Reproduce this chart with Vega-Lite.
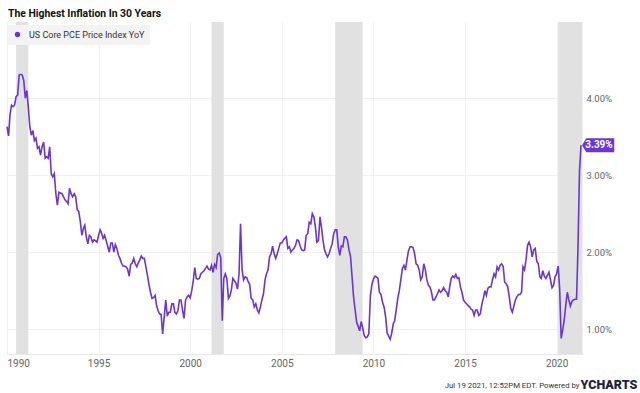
{
  "$schema": "https://vega.github.io/schema/vega-lite/v6.json",
  "width": 576,
  "height": 332,
  "autosize": {"type": "none"},
  "padding": {"left": 7, "top": 22, "right": 57, "bottom": 39},
  "background": "white",
  "title": {"text": "The Highest Inflation In 30 Years", "anchor": "start", "frame": "group", "font": "Roboto", "fontSize": 10.4, "fontWeight": "bold", "color": "#111111", "baseline": "alphabetic", "offset": 5, "dx": 1, "dy": 10},
  "config": {"view": {"stroke": null}, "font": "Roboto"},
  "data": {
    "format": {"parse": {"d": "date:'%Y-%m'", "d2": "date:'%Y-%m'"}},
    "values": [
      {"d": "1990-07", "d2": "1991-03"},
      {"d": "2001-03", "d2": "2001-11"},
      {"d": "2007-12", "d2": "2009-06"},
      {"d": "2020-02", "d2": "2021-06"},
      {"d":"1990-01","v":3.63},{"d":"1990-02","v":3.51},{"d":"1990-03","v":3.78},{"d":"1990-04","v":3.91},{"d":"1990-05","v":3.89},{"d":"1990-06","v":3.91},{"d":"1990-07","v":4.02},{"d":"1990-08","v":4.04},{"d":"1990-09","v":4.30},{"d":"1990-10","v":4.31},{"d":"1990-11","v":4.30},{"d":"1990-12","v":4.23},
      {"d":"1991-01","v":4.00},{"d":"1991-02","v":4.10},{"d":"1991-03","v":3.89},{"d":"1991-04","v":3.63},{"d":"1991-05","v":3.52},{"d":"1991-06","v":3.58},{"d":"1991-07","v":3.45},{"d":"1991-08","v":3.48},{"d":"1991-09","v":3.35},{"d":"1991-10","v":3.37},{"d":"1991-11","v":3.26},{"d":"1991-12","v":3.37},
      {"d":"1992-01","v":3.43},{"d":"1992-02","v":3.22},{"d":"1992-03","v":3.24},{"d":"1992-04","v":3.22},{"d":"1992-05","v":3.37},{"d":"1992-06","v":3.02},{"d":"1992-07","v":2.98},{"d":"1992-08","v":3.02},{"d":"1992-09","v":2.76},{"d":"1992-10","v":2.61},{"d":"1992-11","v":2.78},{"d":"1992-12","v":2.77},
      {"d":"1993-01","v":2.76},{"d":"1993-02","v":2.72},{"d":"1993-03","v":2.68},{"d":"1993-04","v":2.66},{"d":"1993-05","v":2.63},{"d":"1993-06","v":2.83},{"d":"1993-07","v":2.76},{"d":"1993-08","v":2.72},{"d":"1993-09","v":2.76},{"d":"1993-10","v":2.72},{"d":"1993-11","v":2.55},{"d":"1993-12","v":2.53},
      {"d":"1994-01","v":2.40},{"d":"1994-02","v":2.22},{"d":"1994-03","v":2.30},{"d":"1994-04","v":2.35},{"d":"1994-05","v":2.20},{"d":"1994-06","v":2.11},{"d":"1994-07","v":2.22},{"d":"1994-08","v":2.20},{"d":"1994-09","v":2.13},{"d":"1994-10","v":2.16},{"d":"1994-11","v":2.15},{"d":"1994-12","v":2.13},
      {"d":"1995-01","v":2.22},{"d":"1995-02","v":2.29},{"d":"1995-03","v":2.25},{"d":"1995-04","v":2.18},{"d":"1995-05","v":2.22},{"d":"1995-06","v":2.15},{"d":"1995-07","v":2.08},{"d":"1995-08","v":2.00},{"d":"1995-09","v":2.12},{"d":"1995-10","v":2.12},{"d":"1995-11","v":2.00},{"d":"1995-12","v":2.10},
      {"d":"1996-01","v":2.05},{"d":"1996-02","v":1.96},{"d":"1996-03","v":1.92},{"d":"1996-04","v":1.86},{"d":"1996-05","v":1.82},{"d":"1996-06","v":1.82},{"d":"1996-07","v":1.81},{"d":"1996-08","v":1.78},{"d":"1996-09","v":1.69},{"d":"1996-10","v":1.84},{"d":"1996-11","v":1.86},{"d":"1996-12","v":1.92},
      {"d":"1997-01","v":1.85},{"d":"1997-02","v":1.81},{"d":"1997-03","v":1.86},{"d":"1997-04","v":1.90},{"d":"1997-05","v":1.95},{"d":"1997-06","v":1.92},{"d":"1997-07","v":1.92},{"d":"1997-08","v":1.81},{"d":"1997-09","v":1.70},{"d":"1997-10","v":1.58},{"d":"1997-11","v":1.48},{"d":"1997-12","v":1.40},
      {"d":"1998-01","v":1.41},{"d":"1998-02","v":1.44},{"d":"1998-03","v":1.31},{"d":"1998-04","v":1.24},{"d":"1998-05","v":1.20},{"d":"1998-06","v":1.19},{"d":"1998-07","v":0.94},{"d":"1998-08","v":1.16},{"d":"1998-09","v":1.38},{"d":"1998-10","v":1.17},{"d":"1998-11","v":1.22},{"d":"1998-12","v":1.22},
      {"d":"1999-01","v":1.33},{"d":"1999-02","v":1.33},{"d":"1999-03","v":1.22},{"d":"1999-04","v":1.20},{"d":"1999-05","v":1.24},{"d":"1999-06","v":1.38},{"d":"1999-07","v":1.38},{"d":"1999-08","v":1.25},{"d":"1999-09","v":1.14},{"d":"1999-10","v":1.38},{"d":"1999-11","v":1.42},{"d":"1999-12","v":1.44},
      {"d":"2000-01","v":1.41},{"d":"2000-02","v":1.50},{"d":"2000-03","v":1.62},{"d":"2000-04","v":1.80},{"d":"2000-05","v":1.66},{"d":"2000-06","v":1.65},{"d":"2000-07","v":1.66},{"d":"2000-08","v":1.72},{"d":"2000-09","v":1.74},{"d":"2000-10","v":1.76},{"d":"2000-11","v":1.79},{"d":"2000-12","v":1.82},
      {"d":"2001-01","v":1.78},{"d":"2001-02","v":1.77},{"d":"2001-03","v":1.83},{"d":"2001-04","v":1.74},{"d":"2001-05","v":1.84},{"d":"2001-06","v":1.80},{"d":"2001-07","v":1.97},{"d":"2001-08","v":1.99},{"d":"2001-09","v":1.93},{"d":"2001-10","v":1.11},{"d":"2001-11","v":1.66},{"d":"2001-12","v":1.72},
      {"d":"2002-01","v":1.66},{"d":"2002-02","v":1.40},{"d":"2002-03","v":1.43},{"d":"2002-04","v":1.51},{"d":"2002-05","v":1.66},{"d":"2002-06","v":1.63},{"d":"2002-07","v":1.60},{"d":"2002-08","v":1.52},{"d":"2002-09","v":1.72},{"d":"2002-10","v":2.37},{"d":"2002-11","v":1.77},{"d":"2002-12","v":1.64},
      {"d":"2003-01","v":1.68},{"d":"2003-02","v":1.67},{"d":"2003-03","v":1.62},{"d":"2003-04","v":1.58},{"d":"2003-05","v":1.40},{"d":"2003-06","v":1.38},{"d":"2003-07","v":1.29},{"d":"2003-08","v":1.33},{"d":"2003-09","v":1.25},{"d":"2003-10","v":1.21},{"d":"2003-11","v":1.29},{"d":"2003-12","v":1.38},
      {"d":"2004-01","v":1.46},{"d":"2004-02","v":1.64},{"d":"2004-03","v":1.72},{"d":"2004-04","v":1.77},{"d":"2004-05","v":1.94},{"d":"2004-06","v":1.98},{"d":"2004-07","v":2.08},{"d":"2004-08","v":1.98},{"d":"2004-09","v":1.92},{"d":"2004-10","v":1.98},{"d":"2004-11","v":2.05},{"d":"2004-12","v":2.12},
      {"d":"2005-01","v":2.12},{"d":"2005-02","v":2.16},{"d":"2005-03","v":2.18},{"d":"2005-04","v":2.20},{"d":"2005-05","v":2.05},{"d":"2005-06","v":2.07},{"d":"2005-07","v":2.00},{"d":"2005-08","v":2.03},{"d":"2005-09","v":2.05},{"d":"2005-10","v":2.09},{"d":"2005-11","v":2.16},{"d":"2005-12","v":2.15},
      {"d":"2006-01","v":2.08},{"d":"2006-02","v":2.03},{"d":"2006-03","v":2.02},{"d":"2006-04","v":2.03},{"d":"2006-05","v":2.22},{"d":"2006-06","v":2.24},{"d":"2006-07","v":2.39},{"d":"2006-08","v":2.37},{"d":"2006-09","v":2.50},{"d":"2006-10","v":2.46},{"d":"2006-11","v":2.33},{"d":"2006-12","v":2.13},
      {"d":"2007-01","v":2.15},{"d":"2007-02","v":2.46},{"d":"2007-03","v":2.33},{"d":"2007-04","v":2.16},{"d":"2007-05","v":2.03},{"d":"2007-06","v":1.98},{"d":"2007-07","v":1.94},{"d":"2007-08","v":1.98},{"d":"2007-09","v":2.05},{"d":"2007-10","v":2.11},{"d":"2007-11","v":2.24},{"d":"2007-12","v":2.29},
      {"d":"2008-01","v":2.29},{"d":"2008-02","v":2.07},{"d":"2008-03","v":1.96},{"d":"2008-04","v":2.08},{"d":"2008-05","v":2.07},{"d":"2008-06","v":2.20},{"d":"2008-07","v":2.20},{"d":"2008-08","v":2.16},{"d":"2008-09","v":2.03},{"d":"2008-10","v":1.95},{"d":"2008-11","v":1.68},{"d":"2008-12","v":1.42},
      {"d":"2009-01","v":1.25},{"d":"2009-02","v":1.09},{"d":"2009-03","v":1.04},{"d":"2009-04","v":0.98},{"d":"2009-05","v":1.10},{"d":"2009-06","v":1.02},{"d":"2009-07","v":0.92},{"d":"2009-08","v":0.89},{"d":"2009-09","v":0.90},{"d":"2009-10","v":0.94},{"d":"2009-11","v":1.43},{"d":"2009-12","v":1.58},
      {"d":"2010-01","v":1.65},{"d":"2010-02","v":1.69},{"d":"2010-03","v":1.68},{"d":"2010-04","v":1.66},{"d":"2010-05","v":1.48},{"d":"2010-06","v":1.45},{"d":"2010-07","v":1.35},{"d":"2010-08","v":1.29},{"d":"2010-09","v":1.16},{"d":"2010-10","v":0.95},{"d":"2010-11","v":0.91},{"d":"2010-12","v":0.87},
      {"d":"2011-01","v":0.95},{"d":"2011-02","v":1.07},{"d":"2011-03","v":1.11},{"d":"2011-04","v":1.25},{"d":"2011-05","v":1.40},{"d":"2011-06","v":1.50},{"d":"2011-07","v":1.64},{"d":"2011-08","v":1.79},{"d":"2011-09","v":1.83},{"d":"2011-10","v":1.77},{"d":"2011-11","v":1.90},{"d":"2011-12","v":2.02},
      {"d":"2012-01","v":2.07},{"d":"2012-02","v":2.07},{"d":"2012-03","v":2.06},{"d":"2012-04","v":1.98},{"d":"2012-05","v":1.85},{"d":"2012-06","v":1.83},{"d":"2012-07","v":1.77},{"d":"2012-08","v":1.64},{"d":"2012-09","v":1.68},{"d":"2012-10","v":1.85},{"d":"2012-11","v":1.77},{"d":"2012-12","v":1.64},
      {"d":"2013-01","v":1.57},{"d":"2013-02","v":1.55},{"d":"2013-03","v":1.49},{"d":"2013-04","v":1.38},{"d":"2013-05","v":1.38},{"d":"2013-06","v":1.42},{"d":"2013-07","v":1.46},{"d":"2013-08","v":1.51},{"d":"2013-09","v":1.48},{"d":"2013-10","v":1.50},{"d":"2013-11","v":1.54},{"d":"2013-12","v":1.50},
      {"d":"2014-01","v":1.48},{"d":"2014-02","v":1.42},{"d":"2014-03","v":1.55},{"d":"2014-04","v":1.66},{"d":"2014-05","v":1.69},{"d":"2014-06","v":1.67},{"d":"2014-07","v":1.71},{"d":"2014-08","v":1.66},{"d":"2014-09","v":1.67},{"d":"2014-10","v":1.55},{"d":"2014-11","v":1.48},{"d":"2014-12","v":1.38},
      {"d":"2015-01","v":1.35},{"d":"2015-02","v":1.33},{"d":"2015-03","v":1.31},{"d":"2015-04","v":1.29},{"d":"2015-05","v":1.26},{"d":"2015-06","v":1.25},{"d":"2015-07","v":1.18},{"d":"2015-08","v":1.25},{"d":"2015-09","v":1.25},{"d":"2015-10","v":1.18},{"d":"2015-11","v":1.20},{"d":"2015-12","v":1.32},
      {"d":"2016-01","v":1.40},{"d":"2016-02","v":1.50},{"d":"2016-03","v":1.44},{"d":"2016-04","v":1.53},{"d":"2016-05","v":1.55},{"d":"2016-06","v":1.55},{"d":"2016-07","v":1.64},{"d":"2016-08","v":1.72},{"d":"2016-09","v":1.68},{"d":"2016-10","v":1.81},{"d":"2016-11","v":1.77},{"d":"2016-12","v":1.83},
      {"d":"2017-01","v":1.85},{"d":"2017-02","v":1.81},{"d":"2017-03","v":1.61},{"d":"2017-04","v":1.59},{"d":"2017-05","v":1.55},{"d":"2017-06","v":1.42},{"d":"2017-07","v":1.27},{"d":"2017-08","v":1.22},{"d":"2017-09","v":1.30},{"d":"2017-10","v":1.38},{"d":"2017-11","v":1.42},{"d":"2017-12","v":1.45},
      {"d":"2018-01","v":1.45},{"d":"2018-02","v":1.48},{"d":"2018-03","v":1.81},{"d":"2018-04","v":1.77},{"d":"2018-05","v":1.90},{"d":"2018-06","v":2.09},{"d":"2018-07","v":2.13},{"d":"2018-08","v":2.07},{"d":"2018-09","v":1.94},{"d":"2018-10","v":2.03},{"d":"2018-11","v":2.05},{"d":"2018-12","v":1.88},
      {"d":"2019-01","v":1.85},{"d":"2019-02","v":1.68},{"d":"2019-03","v":1.66},{"d":"2019-04","v":1.76},{"d":"2019-05","v":1.69},{"d":"2019-06","v":1.66},{"d":"2019-07","v":1.70},{"d":"2019-08","v":1.74},{"d":"2019-09","v":1.64},{"d":"2019-10","v":1.54},{"d":"2019-11","v":1.57},{"d":"2019-12","v":1.68},
      {"d":"2020-01","v":1.72},{"d":"2020-02","v":1.82},{"d":"2020-03","v":1.53},{"d":"2020-04","v":0.88},{"d":"2020-05","v":0.99},{"d":"2020-06","v":1.12},{"d":"2020-07","v":1.31},{"d":"2020-08","v":1.48},{"d":"2020-09","v":1.38},{"d":"2020-10","v":1.30},{"d":"2020-11","v":1.36},{"d":"2020-12","v":1.38},
      {"d":"2021-01","v":1.39},{"d":"2021-02","v":1.39},{"d":"2021-03","v":2.03},{"d":"2021-04","v":3.05},{"d":"2021-05","v":3.39,"lab":"3.39%"}
    ]
  },
  "encoding": {
    "x": {
      "field": "d",
      "type": "temporal",
      "scale": {"domain": [{"year": 1990, "month": 1, "date": 1}, {"year": 2021, "month": 6, "date": 10}], "nice": false},
      "axis": {
        "tickCount": {"interval": "year", "step": 5},
        "format": "%Y",
        "grid": true,
        "gridColor": "#f0f0f0",
        "gridWidth": 1,
        "ticks": false,
        "domain": true,
        "domainColor": "#e8e8e8",
        "labelFlush": true,
        "labelColor": "#666666",
        "labelFontSize": 10,
        "labelPadding": 4,
        "title": "Jul 19 2021, 12:52PM EDT. Powered by",
        "titleX": 572,
        "titleY": 33,
        "titleAlign": "right",
        "titleAnchor": null,
        "titleBaseline": "alphabetic",
        "titleFontSize": 7.8,
        "titleFontWeight": "normal",
        "titleColor": "#333333"
      }
    }
  },
  "layer": [
    {
      "transform": [{"filter": "isValid(datum.d2)"}],
      "mark": {"type": "rect", "color": "#e1e1e1"},
      "encoding": {"x2": {"field": "d2"}}
    },
    {
      "transform": [{"filter": "isValid(datum.v)"}],
      "mark": {"type": "line", "strokeWidth": 1.6, "interpolate": "linear"},
      "encoding": {
        "y": {
          "field": "v",
          "type": "quantitative",
          "scale": {"domain": [0.678, 4.99], "nice": false, "zero": false},
          "axis": {
            "orient": "right",
            "values": [1, 2, 3, 4],
            "labelExpr": "format(datum.value, '.2f') + '%'",
            "grid": true,
            "gridColor": "#f0f0f0",
            "ticks": false,
            "domain": false,
            "labelColor": "#666666",
            "labelFontSize": 9.5,
            "labelPadding": 3,
            "title": "YCHARTS",
            "titleAngle": 0,
            "titleX": -3,
            "titleY": 366,
            "titleAlign": "left",
            "titleAnchor": null,
            "titleBaseline": "alphabetic",
            "titleFontSize": 12.5,
            "titleFontWeight": 900,
            "titleColor": "#1c2340",
            "titleFont": "Roboto"
          }
        },
        "color": {
          "datum": "US Core PCE Price Index YoY",
          "type": "nominal",
          "scale": {"range": ["#6a35d6"]},
          "legend": {
            "orient": "none",
            "legendX": 1,
            "legendY": 3,
            "title": null,
            "symbolType": "circle",
            "symbolSize": 28,
            "fillColor": "#f3f3f3",
            "padding": 5,
            "labelFontSize": 9,
            "labelColor": "#333333",
            "labelOffset": 7,
            "encode": {"symbols": {"update": {"fill": {"value": "#6a35d6"}, "strokeWidth": {"value": 0}}}}
          }
        }
      }
    },
    {
      "transform": [{"filter": "isValid(datum.lab)"}],
      "mark": {"type": "point", "shape": "M0.15,0L0.75,-1L4.75,-1L4.75,1L0.75,1Z", "size": 196, "filled": true, "fill": "#6a35d6", "opacity": 1, "strokeWidth": 0},
      "encoding": {"y": {"field": "v", "type": "quantitative"}}
    },
    {
      "transform": [{"filter": "isValid(datum.lab)"}],
      "mark": {"type": "text", "dx": 18, "align": "center", "baseline": "middle", "fontWeight": "bold", "fontSize": 10, "fill": "#ffffff"},
      "encoding": {"y": {"field": "v", "type": "quantitative"}, "text": {"field": "lab"}}
    }
  ]
}
